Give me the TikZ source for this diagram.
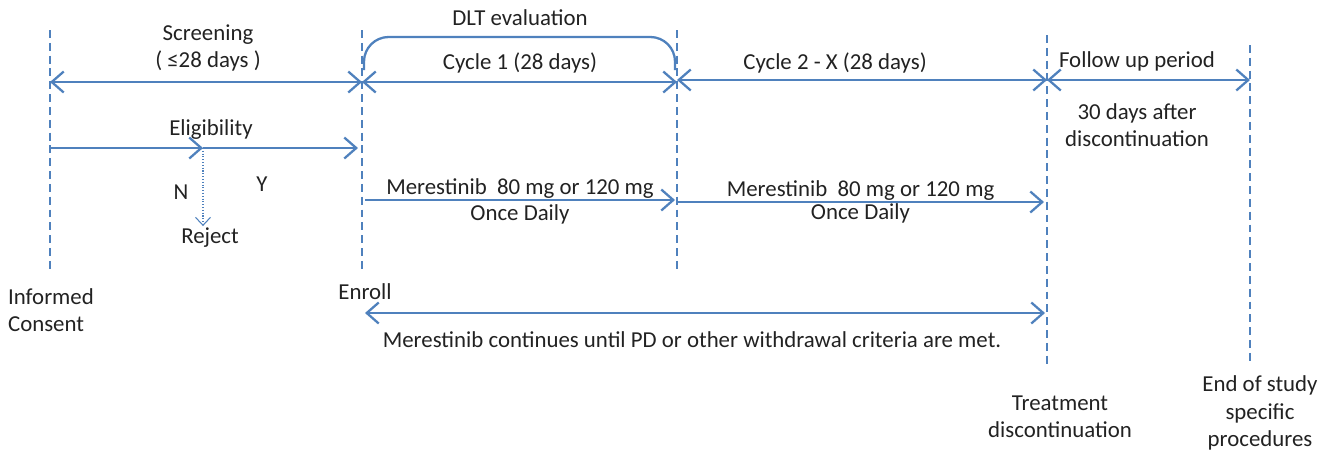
\documentclass[tikz,border=0pt]{standalone}
\usepackage{fontspec}
\setmainfont{Carlito}
\usepackage{tikz}
\usetikzlibrary{arrows.meta, positioning}
\definecolor{schemaBlue}{HTML}{4F81BD}
\definecolor{schemaInk}{HTML}{222222}

\begin{document}
\begin{tikzpicture}[x=0.02cm, y=-0.02cm,
        phase/.style={draw=schemaBlue, line width=1.3pt, dash pattern=on 4.5pt off 2.8pt},
        span/.style={draw=schemaBlue, line width=1.3pt,
            {Straight Barb[length=2.4mm, width=4.2mm]}-{Straight Barb[length=2.4mm, width=4.2mm]}},
        flow/.style={draw=schemaBlue, line width=1.3pt, -{Straight Barb[length=2.4mm, width=4.2mm]}},
        lbl/.style={text=schemaInk, font=\fontsize{13}{15.5}\selectfont, inner sep=1pt, align=center}]
    \useasboundingbox (0,0) rectangle (1324,454);

    % time points
    \coordinate (icTop) at (50,30);    \coordinate (icBot) at (50,272);
    \coordinate (enTop) at (362,30);   \coordinate (enBot) at (362,272);
    \coordinate (c1Top) at (677,30);   \coordinate (c1Bot) at (677,272);
    \coordinate (tdTop) at (1047,35);  \coordinate (tdBot) at (1047,365);
    \coordinate (esTop) at (1250,45);  \coordinate (esBot) at (1250,365);
    \foreach \p in {ic, en, c1, td, es}
        \draw[phase] (\p Top) -- (\p Bot);

    % periods
    \coordinate (scrL) at (50,82);   \coordinate (scrR) at (362,82);
    \coordinate (cy1L) at (362,82);  \coordinate (cy1R) at (677,82);
    \coordinate (cy2L) at (677,80);  \coordinate (cy2R) at (1047,80);
    \coordinate (fupL) at (1047,80); \coordinate (fupR) at (1250,80);
    \draw[span] (scrL) -- (scrR);
    \draw[span] (cy1L) -- (cy1R);
    \draw[span] (cy2L) -- (cy2R);
    \draw[span] (fupL) -- (fupR);

    \node[lbl] (screen) at (208,48) {Screening\\( ≤28 days )};
    \node[lbl] (cycle1) at (520,63) {Cycle 1 (28 days)};
    \node[lbl] (cycle2) at (835,63) {Cycle 2 - X (28 days)};
    \node[lbl] (follow) at (1137,61) {Follow up period};
    \node[lbl] (after) at (1137,125) {30 days after\\discontinuation};

    % DLT window
    \node[lbl] (dlt) at (520,18) {DLT evaluation};
    \coordinate (dltL) at (364,70);
    \coordinate (dltM) at (520,37);
    \coordinate (dltR) at (675,70);
    \draw[draw=schemaBlue, line width=1.3pt, rounded corners=14pt] (dltL) |- (dltM) -| (dltR);

    % eligibility
    \coordinate (eligA) at (50,148);
    \coordinate (eligS) at (203,148);
    \coordinate (eligB) at (358,148);
    \node[lbl] (elig) at (211,130) {Eligibility};
    \draw[flow] (eligA) -- (eligS);
    \draw[flow] (eligS) -- (eligB);
    \node[lbl] (no) at (181,192) {N};
    \node[lbl] (yes) at (262,184) {Y};
    \node[lbl] (reject) at (210,238) {Reject};
    \draw[draw=schemaBlue, densely dotted, line width=0.6pt,
        -{Straight Barb[length=1.6mm, width=3mm]}] (eligS) -- (eligS |- reject.north);

    % dosing
    \coordinate (dose1A) at (365,200);  \coordinate (dose1B) at (675,200);
    \coordinate (dose2A) at (677,202);  \coordinate (dose2B) at (1044,202);
    \draw[flow] (dose1A) -- node[lbl, above=-1pt] (dose1Top) {Merestinib\ \ 80 mg or 120 mg}
        node[lbl, below=1pt] (dose1Bot) {Once Daily} (dose1B);
    \draw[flow] (dose2A) -- node[lbl, above=-1pt] (dose2Top) {Merestinib\ \ 80 mg or 120 mg}
        node[lbl, below=-1pt] (dose2Bot) {Once Daily} (dose2B);

    \coordinate (contA) at (365,313);
    \coordinate (contB) at (1045,313);
    \draw[span] (contA) -- (contB);
    \node[lbl] (cont) at (692,340) {Merestinib continues until PD or other withdrawal criteria are met.};

    % milestones
    \node[lbl, anchor=west, align=left] (consent) at (6,310) {Informed\\Consent};
    \node[lbl] (enroll) at (365,292) {Enroll};
    \node[lbl] (tdisc) at (1060,417) {Treatment\\discontinuation};
    \node[lbl] (eos) at (1260,413) {End of study\\specific\\procedures};
\end{tikzpicture}
\end{document}
